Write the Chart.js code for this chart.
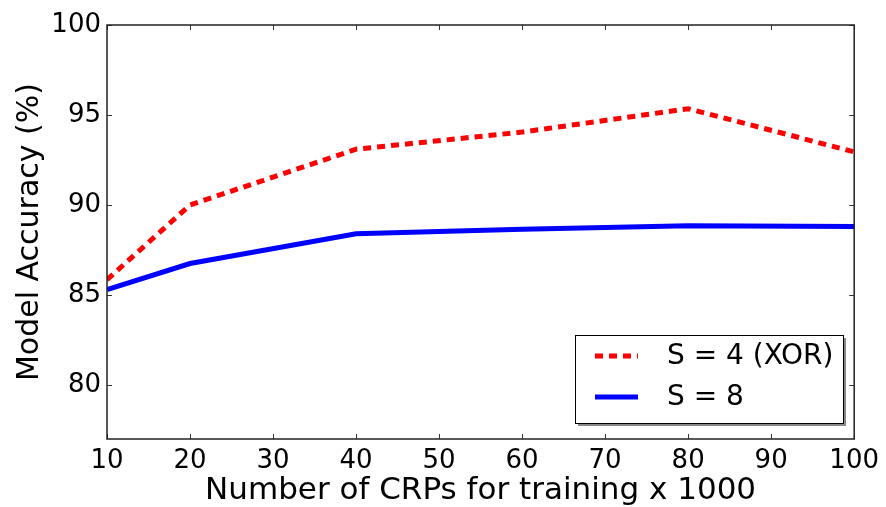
<!DOCTYPE html>
<html>
<head>
<meta charset="utf-8">
<script src="https://cdn.jsdelivr.net/npm/chart.js@4"></script>
<style>
  html, body { margin: 0; padding: 0; background: #fff; }
  #wrap { width: 886px; height: 507px; }
</style>
</head>
<body>
<div id="wrap"><canvas id="myCanvas" width="886" height="507"></canvas></div>
<script>
var crps   = [10, 20, 40, 60, 80, 100]
var xorS4  = [85.85, 90.0, 93.1, 94.05, 95.35, 92.95]
var s8     = [85.3, 86.75, 88.4, 88.65, 88.85, 88.8]
var xTicks = [10, 20, 30, 40, 50, 60, 70, 80, 90, 100]
var yTicks = [80, 85, 90, 95, 100]

function toPoints(xs, ys) {
    return xs.map(function (x, i) { return { x: x, y: ys[i] } })
}

var font = "'DejaVu Sans', sans-serif"

// matplotlib style frame, inward ticks on all four sides, boxed legend
var framePlugin = {
    id: 'frame',
    afterDraw: function (chart) {
        var c = chart.ctx, a = chart.chartArea
        var xs = chart.scales.x, ys = chart.scales.y
        c.save()
        c.strokeStyle = '#333'
        c.lineWidth = 1
        xTicks.forEach(function (v) {
            var px = Math.round(xs.getPixelForValue(v)) + 0.5
            c.beginPath(); c.moveTo(px, a.bottom); c.lineTo(px, a.bottom - 5); c.stroke()
            c.beginPath(); c.moveTo(px, a.top); c.lineTo(px, a.top + 5); c.stroke()
        })
        yTicks.forEach(function (v) {
            var py = Math.round(ys.getPixelForValue(v)) + 0.5
            c.beginPath(); c.moveTo(a.left, py); c.lineTo(a.left + 5, py); c.stroke()
            c.beginPath(); c.moveTo(a.right, py); c.lineTo(a.right - 5, py); c.stroke()
        })
        c.lineWidth = 1.5
        c.strokeStyle = '#222'
        c.strokeRect(a.left, a.top, a.right - a.left, a.bottom - a.top)

        // legend
        var lx = 575, ly = 335, lw = 268, lh = 88
        c.fillStyle = '#888'
        c.fillRect(lx + 3, ly + 3, lw, lh)
        c.fillStyle = '#fff'
        c.fillRect(lx, ly, lw, lh)
        c.lineWidth = 1
        c.strokeStyle = '#000'
        c.strokeRect(lx + 0.5, ly + 0.5, lw, lh)
        var rows = [356, 397]
        chart.data.datasets.forEach(function (ds, i) {
            c.beginPath()
            c.lineWidth = ds.borderWidth
            c.strokeStyle = ds.borderColor
            c.setLineDash(ds.borderDash || [])
            c.moveTo(595, rows[i]); c.lineTo(638, rows[i])
            c.stroke()
            c.setLineDash([])
            c.fillStyle = '#000'
            c.font = '28px ' + font
            c.textBaseline = 'middle'
            c.fillText(ds.label, 667, rows[i] + 1)
        })
        c.restore()
    }
}

var ctx = document.getElementById("myCanvas")
var myChart = new Chart(ctx, {
    type: 'line',
    data: {
        datasets: [
            {
                data: toPoints(crps, xorS4),
                label: "S = 4 (XOR)",
                borderColor: '#ff0000',
                borderWidth: 5,
                borderDash: [8, 6],
                pointRadius: 0,
                fill: false,
            },
            {
                data: toPoints(crps, s8),
                label: "S = 8",
                borderColor: '#0000ff',
                borderWidth: 5,
                pointRadius: 0,
                fill: false,
            }
        ]
    },
    options: {
        responsive: false,
        animation: false,
        layout: { padding: { left: 0, top: 25, right: 27, bottom: 0 } },
        plugins: {
            legend: { display: false },
            tooltip: { enabled: false }
        },
        scales: {
            x: {
                type: 'linear',
                min: 10,
                max: 100,
                grid: { display: false, drawTicks: false, tickLength: 0 },
                border: { display: false },
                afterBuildTicks: function (s) { s.ticks = xTicks.map(function (v) { return { value: v } }) },
                afterFit: function (s) { s.height = 68 },
                ticks: { color: '#000', padding: 7, maxRotation: 0, autoSkip: false, font: { family: font, size: 26 } },
                title: {
                    display: true,
                    text: 'Number of CRPs for training x 1000',
                    color: '#000',
                    padding: { top: 0, bottom: -3 },
                    font: { family: font, size: 31 }
                }
            },
            y: {
                min: 77,
                max: 100,
                grid: { display: false, drawTicks: false, tickLength: 0 },
                border: { display: false },
                afterBuildTicks: function (s) { s.ticks = yTicks.map(function (v) { return { value: v } }) },
                afterFit: function (s) { s.width = 107 },
                ticks: { color: '#000', padding: 6, font: { family: font, size: 26 } },
                title: {
                    display: true,
                    text: 'Model Accuracy (%)',
                    color: '#000',
                    padding: { top: 12, bottom: 0 },
                    font: { family: font, size: 30 }
                }
            }
        }
    },
    plugins: [framePlugin]
});
</script>
</body>
</html>
